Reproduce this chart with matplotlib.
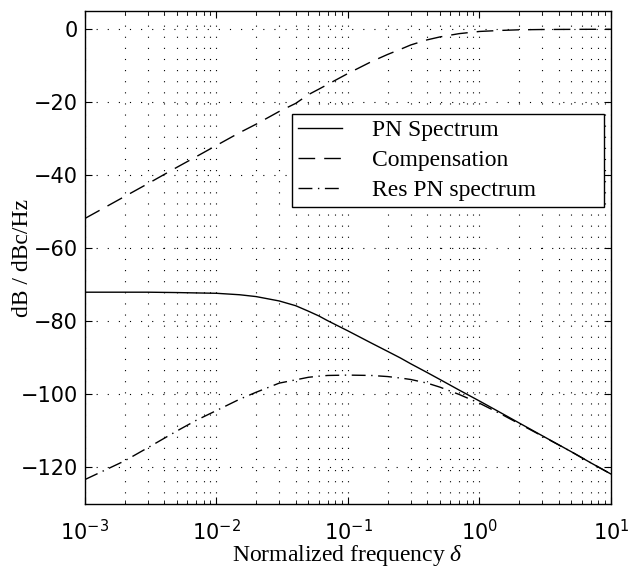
import numpy as np
import matplotlib
matplotlib.use("Agg")
import matplotlib.pyplot as plt
from matplotlib.ticker import LogLocator, NullFormatter

plt.rcParams['font.family'] = ['DejaVu Sans']
plt.rcParams['mathtext.fontset'] = 'custom'
plt.rcParams['mathtext.rm'] = 'DejaVu Sans'
plt.rcParams['mathtext.it'] = 'Liberation Serif:italic'

# Werte
freq = [1e-3, 2e-3, 3e-3, 5e-3, 7e-3, 1e-2, 1.5e-2, 2e-2, 3e-2, 4e-2, 5e-2,
        6e-2, 7e-2, 0.1, 0.15, 0.2, 0.25, 0.3, 0.4, 0.5, 0.7, 1, 1.5, 2, 3,
        5, 7, 10]
pn_spectrum = [-72.0, -72.0, -72.0, -72.1, -72.2, -72.3, -72.7, -73.2, -74.4,
               -75.7, -77.2, -78.5, -79.8, -82.6, -85.9, -88.2, -90.0, -91.6,
               -94.0, -95.9, -98.8, -101.8, -105.3, -107.8, -111.3, -115.7,
               -118.7, -121.8]
compensation = [-51.8, -45.8, -42.3, -37.8, -34.9, -31.8, -28.3, -26.0, -22.5,
                -20.3, -17.9, -16.4, -15.1, -12.1, -8.9, -6.9, -5.5, -4.3,
                -2.9, -2.1, -1.2, -0.6, -0.3, -0.15, -0.07, -0.03, -0.01, 0.0]
res_pn = [-123.3, -118.2, -114.6, -110.0, -107.1, -104.4, -101.3, -99.4, -96.9,
          -96.0, -95.3, -95.0, -94.8, -94.7, -94.8, -95.1, -95.5, -95.9,
          -96.9, -98.0, -100.0, -102.4, -105.6, -108.0, -111.4, -115.7,
          -118.7, -121.8]
labels = ["PN Spectrum", "Compensation", "Res PN spectrum"]

fig = plt.figure(figsize=(6.31, 5.67), dpi=100)
ax = fig.add_axes([0.1347, 0.1111, 0.8336, 0.8695])

ax.semilogx(freq, pn_spectrum, color='k', lw=1.0, label=labels[0])
ax.semilogx(freq, compensation, color='k', lw=1.0, dashes=(12, 6.5), label=labels[1])
ax.semilogx(freq, res_pn, color='k', lw=1.0, dashes=(10, 4, 1, 4), label=labels[2])

ax.set_xlim(1e-3, 10)
ax.set_ylim(-130, 5)
ax.set_yticks([0, -20, -40, -60, -80, -100, -120])
ax.xaxis.set_major_locator(LogLocator(base=10, numticks=10))
ax.xaxis.set_minor_locator(LogLocator(base=10, subs=np.arange(2, 10), numticks=20))
ax.xaxis.set_minor_formatter(NullFormatter())

# Gitter im MATLAB-Stil
dots = (0, (1, 9))
ax.grid(True, which='major', axis='both', color='k', lw=0.8, linestyle=dots)
ax.grid(True, which='minor', axis='x', color='k', lw=0.8, linestyle=dots)

ax.tick_params(which='both', direction='in', top=True, right=True, labelsize=15)
ax.tick_params(which='major', length=5, width=0.8)
ax.tick_params(which='minor', length=3, width=0.6)
ax.tick_params(axis='x', pad=11)
ax.tick_params(axis='y', pad=5)
for s in ax.spines.values():
    s.set_linewidth(1.0)

ax.set_xlabel(r"Normalized frequency $\delta$", family='Liberation Serif', fontsize=17)
ax.xaxis.set_label_coords(0.5, -0.08)
ax.set_ylabel("dB / dBc/Hz", family='Liberation Serif', fontsize=17)
ax.yaxis.set_label_coords(-0.099, 0.5)

leg = ax.legend(loc='upper left', bbox_to_anchor=(0.393, 0.602, 0.594, 0.189),
                mode='expand', fancybox=False, edgecolor='k', framealpha=1,
                prop={'family': 'Liberation Serif', 'size': 17},
                handlelength=1.9, borderaxespad=0, labelspacing=0.35,
                handletextpad=1.25, borderpad=0.25)
leg.get_frame().set_linewidth(1.0)

fig.savefig("out.png", dpi=100)
